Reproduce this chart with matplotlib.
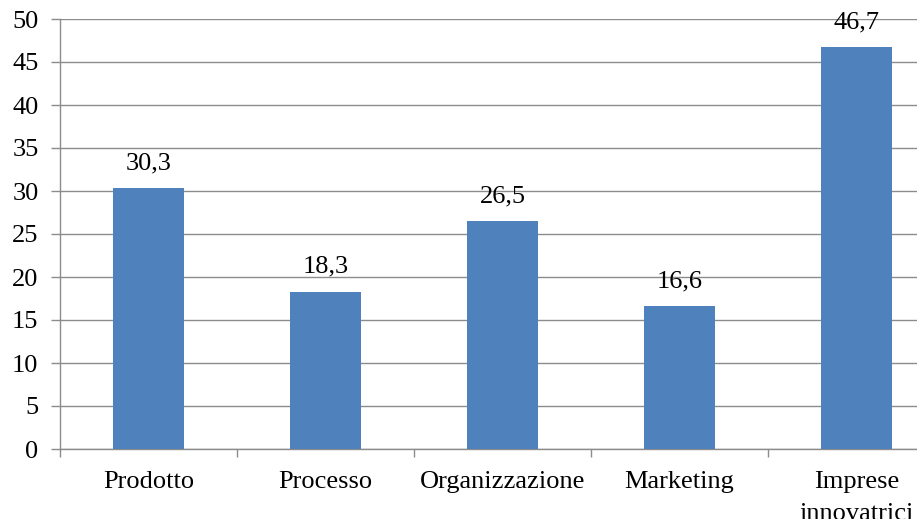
import matplotlib
matplotlib.use("Agg")
import matplotlib.pyplot as plt
import numpy as np

categories = ["Prodotto", "Processo", "Organizzazione", "Marketing", "Imprese\ninnovatrici"]
values = [30.3, 18.3, 26.5, 16.6, 46.7]
value_labels = ["30,3", "18,3", "26,5", "16,6", "46,7"]
yticks = [0, 5, 10, 15, 20, 25, 30, 35, 40, 45, 50]

plt.rcParams['font.family'] = ['Liberation Serif', 'DejaVu Serif']

W, H = 917, 519
fig = plt.figure(figsize=(W / 100, H / 100), dpi=100)
left, right, top, bottom = 60, 945, 19, 449
ax = fig.add_axes([left / W, (H - bottom) / H, (right - left) / W, (bottom - top) / H])

FS = 19
x = np.arange(len(categories))
bars = ax.bar(x, values, width=0.4, color="#4F81BD", zorder=3)
ax.set_xlim(-0.5, len(categories) - 0.5)
ax.set_ylim(0, 50)
ax.set_yticks(yticks)
ax.set_yticklabels([str(t) for t in yticks], fontsize=FS)
ax.yaxis.grid(True, color="#8c8c8c", linewidth=1.0, zorder=0)
ax.set_axisbelow(True)

ax.set_xticks(x)
ax.set_xticklabels(categories, fontsize=FS, linespacing=1.55)
ax.tick_params(axis="x", which="major", length=0, pad=16)
ax.set_xticks(np.arange(-0.5, len(categories), 1.0), minor=True)
ax.tick_params(axis="x", which="minor", length=6, color="#8c8c8c", width=1)
ax.tick_params(axis="y", length=6.5, color="#8c8c8c", width=1, pad=9)

for s in ["top", "right"]:
    ax.spines[s].set_visible(False)
for s in ["left", "bottom"]:
    ax.spines[s].set_color("#8c8c8c")
    ax.spines[s].set_linewidth(1.0)

for xi, v, lab in zip(x, values, value_labels):
    ax.annotate(lab, (xi, v), xytext=(0, 10), textcoords="offset points",
                ha="center", va="bottom", fontsize=FS)

fig.savefig("out.png", dpi=100)
